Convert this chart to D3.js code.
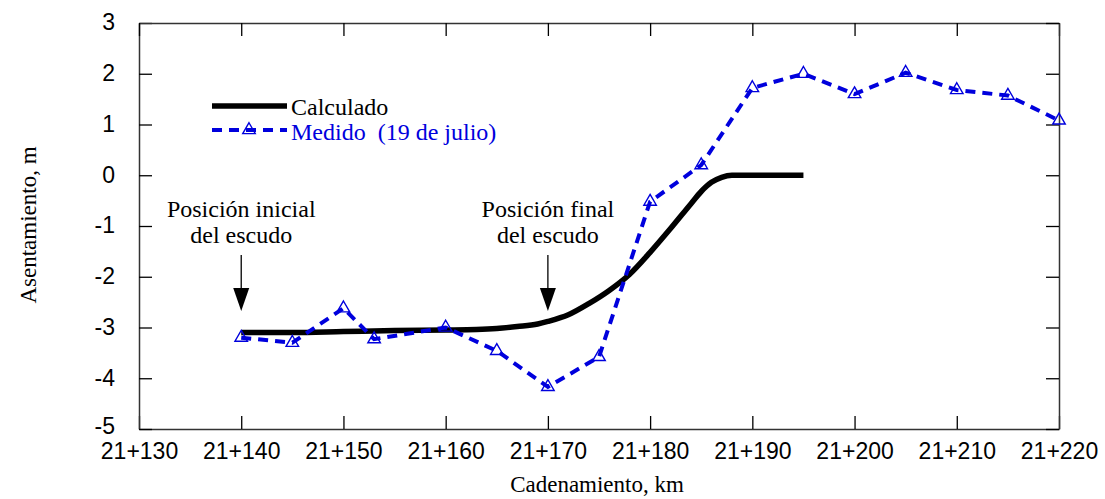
<!DOCTYPE html>
<html>
<head>
<meta charset="utf-8">
<script src="https://cdn.jsdelivr.net/npm/d3@7"></script>
<style>
  html, body { margin: 0; padding: 0; background: #fff; }
  svg { display: block; }
</style>
</head>
<body>
<svg id="chart" width="1105" height="499"></svg>
<script>
// ---- data ----
const xTicks = [130, 140, 150, 160, 170, 180, 190, 200, 210, 220];
const xTickLabels = ["21+130", "21+140", "21+150", "21+160", "21+170", "21+180", "21+190", "21+200", "21+210", "21+220"];
const yTicks = [3, 2, 1, 0, -1, -2, -3, -4, -5];

const calcX = [140, 145, 150, 155, 160, 163, 165, 167, 169, 170, 172, 174, 176, 178, 180, 182, 184, 185, 186, 187, 188, 195];
const calcY = [-3.1, -3.1, -3.08, -3.06, -3.05, -3.04, -3.02, -2.98, -2.93, -2.88, -2.75, -2.53, -2.27, -1.95, -1.52, -1.05, -0.56, -0.32, -0.14, -0.04, 0, 0];

const medX = [140, 145, 150, 153, 160, 165, 170, 175, 180, 185, 190, 195, 200, 205, 210, 215, 220];
const medY = [-3.2, -3.3, -2.62, -3.23, -3.0, -3.46, -4.17, -3.58, -0.52, 0.2, 1.72, 2.0, 1.6, 2.02, 1.68, 1.57, 1.08];

const legendLabels = ["Calculado", "Medido  (19 de julio)"];
const annotations = [
  { x: 140, lines: ["Posición inicial", "del escudo"] },
  { x: 170, lines: ["Posición final", "del escudo"] }
];
const xTitle = "Cadenamiento, km";
const yTitle = "Asentamiento, m";

// ---- layout ----
const L = 139, R = 1059, T = 23, B = 429;
const blue = "#0000dd";
const axisColor = "#333";
const sans = "'Liberation Sans', Arial, sans-serif";
const serif = "'Liberation Serif', 'Times New Roman', serif";

const svg = d3.select("#chart");
const x = d3.scaleLinear().domain([130, 220]).range([L, R]);
const y = d3.scaleLinear().domain([-5, 3]).range([B, T]);

// axes
const gBottom = svg.append("g").attr("transform", `translate(0,${B})`)
  .call(d3.axisBottom(x).tickValues(xTicks).tickSizeInner(-13).tickSizeOuter(0)
    .tickFormat((d, i) => xTickLabels[i]));
gBottom.selectAll("text").attr("y", 14).attr("dy", "0.71em");

const gLeft = svg.append("g").attr("transform", `translate(${L},0)`)
  .call(d3.axisLeft(y).tickValues(yTicks).tickSizeInner(-13).tickSizeOuter(0).tickPadding(24)
    .tickFormat(d => String(d)));
gLeft.selectAll("text").attr("dy", d => d === -5 ? "0.2em" : "0.3em");

const gTop = svg.append("g").attr("transform", `translate(0,${T})`)
  .call(d3.axisTop(x).tickValues(xTicks).tickSizeInner(-13).tickSizeOuter(0).tickFormat(""));
const gRight = svg.append("g").attr("transform", `translate(${R},0)`)
  .call(d3.axisRight(y).tickValues(yTicks).tickSizeInner(-13).tickSizeOuter(0).tickFormat(""));

[gBottom, gLeft, gTop, gRight].forEach(g => {
  g.selectAll("path.domain").attr("stroke", axisColor).attr("stroke-width", 1.5);
  g.selectAll(".tick line").attr("stroke", "#000").attr("stroke-width", 1.3);
  g.selectAll("text").attr("font-family", sans).attr("font-size", 23).attr("fill", "#000");
});

// axis titles
svg.append("text").attr("x", 597).attr("y", 492).attr("text-anchor", "middle")
  .attr("font-family", serif).attr("font-size", 23).text(xTitle);
svg.append("text").attr("transform", `translate(36,225) rotate(-90)`).attr("text-anchor", "middle")
  .attr("font-family", serif).attr("font-size", 23).text(yTitle);

// Calculado line
const calcData = calcX.map((d, i) => [d, calcY[i]]);
svg.append("path").datum(calcData)
  .attr("fill", "none").attr("stroke", "#000").attr("stroke-width", 5.5)
  .attr("d", d3.line().x(d => x(d[0])).y(d => y(d[1])).curve(d3.curveMonotoneX));

// Medido line
const medData = medX.map((d, i) => [d, medY[i]]);
svg.append("path").datum(medData)
  .attr("fill", "none").attr("stroke", blue).attr("stroke-width", 4)
  .attr("stroke-dasharray", "10,7")
  .attr("d", d3.line().x(d => x(d[0])).y(d => y(d[1])));

const tri = d3.symbol().type(d3.symbolTriangle).size(68);
svg.append("g").selectAll("path").data(medData).join("path")
  .attr("transform", d => `translate(${x(d[0])},${y(d[1])})`)
  .attr("d", tri).attr("fill", "none").attr("stroke", blue).attr("stroke-width", 1.4);

// legend
svg.append("line").attr("x1", 212).attr("x2", 287).attr("y1", 106).attr("y2", 106)
  .attr("stroke", "#000").attr("stroke-width", 5.5);
svg.append("text").attr("x", 291).attr("y", 115).attr("font-family", serif).attr("font-size", 24)
  .attr("fill", "#000").text(legendLabels[0]);
svg.append("line").attr("x1", 212).attr("x2", 287).attr("y1", 130).attr("y2", 130)
  .attr("stroke", blue).attr("stroke-width", 4).attr("stroke-dasharray", "10,7");
svg.append("path").attr("transform", "translate(249,130)").attr("d", tri)
  .attr("fill", "none").attr("stroke", blue).attr("stroke-width", 1.4);
svg.append("text").attr("x", 291).attr("y", 140).attr("font-family", serif).attr("font-size", 24)
  .attr("fill", blue).style("white-space", "pre").attr("xml:space", "preserve").text(legendLabels[1]);

// annotations with arrows
annotations.forEach(a => {
  const ax = x(a.x);
  a.lines.forEach((ln, i) => {
    svg.append("text").attr("x", ax).attr("y", 217 + i * 26).attr("text-anchor", "middle")
      .attr("font-family", serif).attr("font-size", 24).text(ln);
  });
  svg.append("line").attr("x1", ax).attr("x2", ax).attr("y1", 255).attr("y2", 290)
    .attr("stroke", "#000").attr("stroke-width", 1.3);
  svg.append("path").attr("d", `M${ax - 8},288 L${ax + 8},288 L${ax},311 Z`).attr("fill", "#000");
});
</script>
</body>
</html>
